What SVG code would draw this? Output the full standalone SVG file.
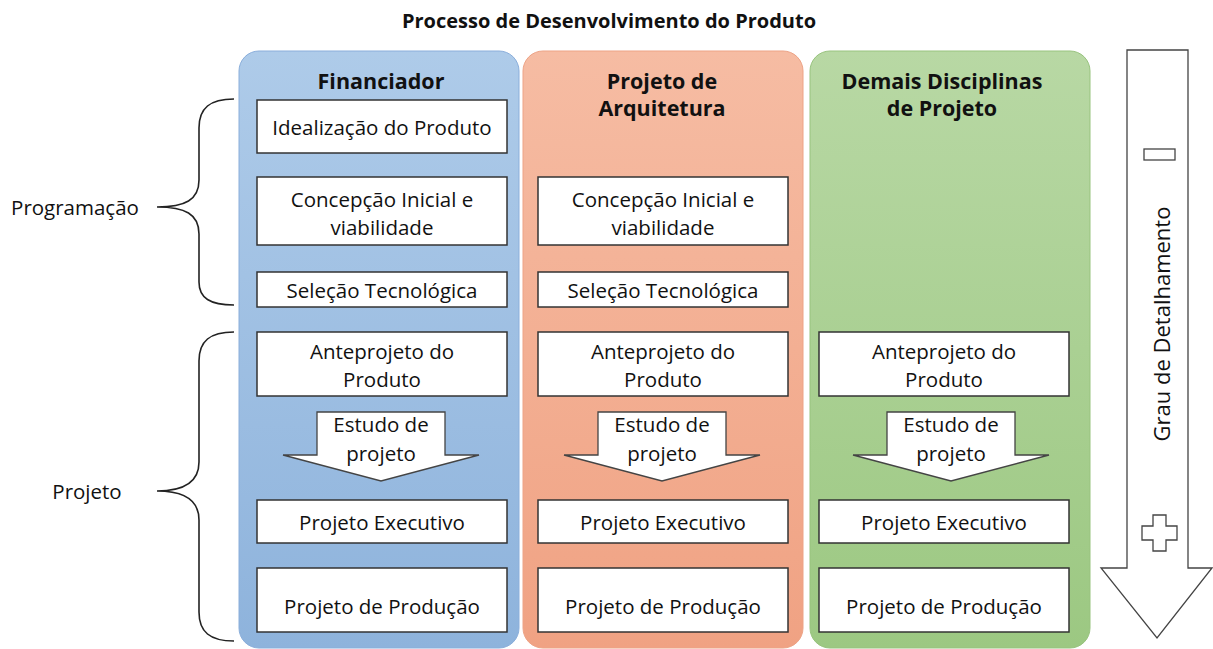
<svg xmlns="http://www.w3.org/2000/svg" width="1213" height="649" viewBox="0 0 1213 649">
<defs>
<linearGradient id="gBlue" x1="0" y1="0" x2="0" y2="1"><stop offset="0" stop-color="#aecbe9"/><stop offset="1" stop-color="#8eb3dc"/></linearGradient>
<linearGradient id="gOrange" x1="0" y1="0" x2="0" y2="1"><stop offset="0" stop-color="#f6bca3"/><stop offset="1" stop-color="#f0a283"/></linearGradient>
<linearGradient id="gGreen" x1="0" y1="0" x2="0" y2="1"><stop offset="0" stop-color="#b8d8a4"/><stop offset="1" stop-color="#9cc882"/></linearGradient>
<style>
.t{font-family:"Open Sans","Noto Sans",sans-serif;font-size:20.5px;fill:#111;text-anchor:middle;dominant-baseline:central}
.h{font-family:"Open Sans","Noto Sans",sans-serif;font-size:21.5px;font-weight:bold;fill:#111;text-anchor:middle;dominant-baseline:central}
.box{fill:#fff;stroke:#333;stroke-width:1.5}
.arr{fill:#fff;stroke:#444;stroke-width:1.3}
.brace{fill:none;stroke:#222;stroke-width:1.6}
</style>
</defs>
<rect width="1213" height="649" fill="#fff"/>
<text class="h" x="609" y="20" style="font-size:20px">Processo de Desenvolvimento do Produto</text>

<g id="col-financiador">
<rect x="239" y="51" width="280" height="597" rx="20" fill="url(#gBlue)" stroke="#8aaedb" stroke-width="1"/>
<text class="h" x="381" y="80">Financiador</text>
</g>
<g id="col-arquitetura">
<rect x="523" y="51" width="280" height="597" rx="20" fill="url(#gOrange)" stroke="#eda386" stroke-width="1"/>
<text class="h" x="662" y="80">Projeto de</text>
<text class="h" x="662" y="107">Arquitetura</text>
</g>
<g id="col-demais">
<rect x="810" y="51" width="280" height="597" rx="20" fill="url(#gGreen)" stroke="#98c37e" stroke-width="1"/>
<text class="h" x="942" y="80">Demais Disciplinas</text>
<text class="h" x="942" y="107">de Projeto</text>
</g>

<g id="f-idealizacao"><rect class="box" x="257" y="100" width="250" height="53"/><text class="t" x="382" y="127">Idealização do Produto</text></g>
<g id="f-concepcao"><rect class="box" x="257" y="177" width="250" height="68"/><text class="t" x="382" y="199">Concepção Inicial e</text><text class="t" x="382" y="227">viabilidade</text></g>
<g id="f-selecao"><rect class="box" x="257" y="272" width="250" height="35"/><text class="t" x="382" y="290">Seleção Tecnológica</text></g>
<g id="f-anteprojeto"><rect class="box" x="257" y="332" width="250" height="64"/><text class="t" x="382" y="351">Anteprojeto do</text><text class="t" x="382" y="379">Produto</text></g>
<g id="f-estudo"><path class="arr" d="M317 412 H445 V455 H479 L381 481 L283 455 H317 Z"/><text class="t" x="381" y="424">Estudo de</text><text class="t" x="381" y="453">projeto</text></g>
<g id="f-executivo"><rect class="box" x="257" y="500" width="250" height="43"/><text class="t" x="382" y="522">Projeto Executivo</text></g>
<g id="f-producao"><rect class="box" x="257" y="568" width="250" height="64"/><text class="t" x="382" y="606">Projeto de Produção</text></g>

<g id="a-concepcao"><rect class="box" x="538" y="177" width="250" height="68"/><text class="t" x="663" y="199">Concepção Inicial e</text><text class="t" x="663" y="227">viabilidade</text></g>
<g id="a-selecao"><rect class="box" x="538" y="272" width="250" height="35"/><text class="t" x="663" y="290">Seleção Tecnológica</text></g>
<g id="a-anteprojeto"><rect class="box" x="538" y="332" width="250" height="64"/><text class="t" x="663" y="351">Anteprojeto do</text><text class="t" x="663" y="379">Produto</text></g>
<g id="a-estudo"><path class="arr" d="M598 412 H726 V455 H760 L662 481 L564 455 H598 Z"/><text class="t" x="662" y="424">Estudo de</text><text class="t" x="662" y="453">projeto</text></g>
<g id="a-executivo"><rect class="box" x="538" y="500" width="250" height="43"/><text class="t" x="663" y="522">Projeto Executivo</text></g>
<g id="a-producao"><rect class="box" x="538" y="568" width="250" height="64"/><text class="t" x="663" y="606">Projeto de Produção</text></g>

<g id="d-anteprojeto"><rect class="box" x="819" y="332" width="250" height="64"/><text class="t" x="944" y="351">Anteprojeto do</text><text class="t" x="944" y="379">Produto</text></g>
<g id="d-estudo"><path class="arr" d="M887 412 H1015 V455 H1049 L951 481 L853 455 H887 Z"/><text class="t" x="951" y="424">Estudo de</text><text class="t" x="951" y="453">projeto</text></g>
<g id="d-executivo"><rect class="box" x="819" y="500" width="250" height="43"/><text class="t" x="944" y="522">Projeto Executivo</text></g>
<g id="d-producao"><rect class="box" x="819" y="568" width="250" height="64"/><text class="t" x="944" y="606">Projeto de Produção</text></g>

<g id="connectors">
<path class="brace" d="M234 99 C210 99 199 108 199 128 V180 C199 200 185 207 157 207 C185 207 199 214 199 234 V282 C199 298 210 305 234 305"/>
<path class="brace" d="M234 332 C210 332 199 341 199 361 V462 C199 482 185 491 157 491 C185 491 199 500 199 520 V612 C199 632 210 641 234 641"/>
</g>
<g id="label-programacao"><text class="t" x="75" y="207">Programação</text></g>
<g id="label-projeto"><text class="t" x="87" y="491">Projeto</text></g>

<g id="grau">
<path class="arr" d="M1127 50 H1188 V568 H1212 L1157 638 L1101 568 H1127 Z" stroke="#555"/>
<rect x="1144" y="149" width="31" height="11" fill="#fff" stroke="#444" stroke-width="1.3"/>
<path d="M1153 515 H1166 V526 H1177 V540 H1166 V551 H1153 V540 H1142 V526 H1153 Z" fill="#fff" stroke="#444" stroke-width="1.3"/>
<text class="t" x="1161" y="324" transform="rotate(-90 1161 324)" style="font-size:22px">Grau de Detalhamento</text>
</g>
</svg>
